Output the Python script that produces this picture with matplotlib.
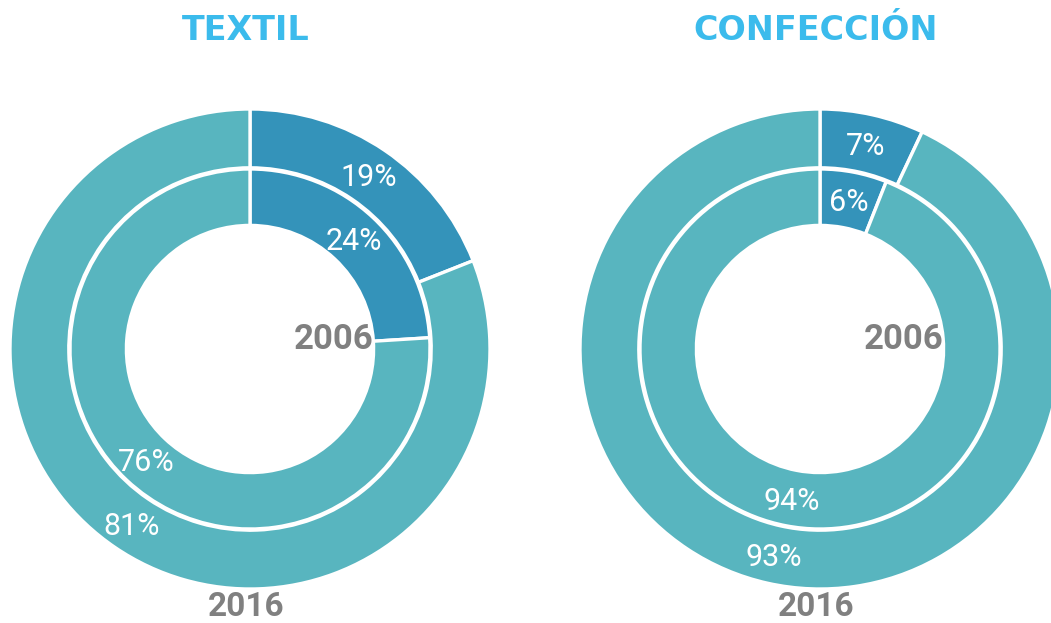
import numpy as np
import matplotlib
matplotlib.use("Agg")
import matplotlib.pyplot as plt

titles = ["TEXTIL", "CONFECCIÓN"]
share_2016 = [[19, 81], [7, 93]]   # outer ring
share_2006 = [[24, 76], [6, 94]]   # inner ring
year_outer = "2016"
year_inner = "2006"

DARK = "#3493BA"
TEAL = "#58B5BF"
TITLE_C = "#3BBBEC"
GRAY = "#808080"
colors = [DARK, TEAL]

W, H = 1051, 623
fig = plt.figure(figsize=(W / 100, H / 100), dpi=100)

centers_px = [(250, 349), (820, 349)]
R_px = 240
outer_w = 0.245
inner_r = 0.75
inner_w = 0.235

for i in range(2):
    cx, cy = centers_px[i]
    ax = fig.add_axes([(cx - R_px) / W, (H - cy - R_px) / H, 2 * R_px / W, 2 * R_px / H])
    for vals, r, w in [(share_2016[i], 1.0, outer_w), (share_2006[i], inner_r, inner_w)]:
        wedges, _ = ax.pie(vals, radius=r, colors=colors, startangle=90, counterclock=False,
                           wedgeprops=dict(width=w, edgecolor="white", linewidth=2.4))
        for wd, v in zip(wedges, vals):
            ang = np.deg2rad((wd.theta1 + wd.theta2) / 2)
            rr = r - w / 2
            ax.text(rr * np.cos(ang), rr * np.sin(ang), f"{v}%", ha="center",
                    va="center_baseline", fontsize=22, fontweight="normal", color="white",
                    family=["Roboto", "DejaVu Sans"])
    ax.set_xlim(-1, 1)
    ax.set_ylim(-1, 1)
    ax.set_aspect("equal")
    ax.axis("off")
    ax.text(0.35, 0.04, year_inner, ha="center", va="center", fontsize=25,
            fontweight="bold", color=GRAY, family=["Roboto", "DejaVu Sans"], clip_on=False)
    ax.text(-0.015, -1.075, year_outer, ha="center", va="center", fontsize=24,
            fontweight="bold", color=GRAY, family=["Roboto", "DejaVu Sans"], clip_on=False)
    fig.text((cx - 4) / W, 1 - 31 / H, titles[i], ha="center", va="center", fontsize=24,
             fontweight="bold", color=TITLE_C, family=["DejaVu Sans"])

fig.savefig("out.png", dpi=100, facecolor="white")
